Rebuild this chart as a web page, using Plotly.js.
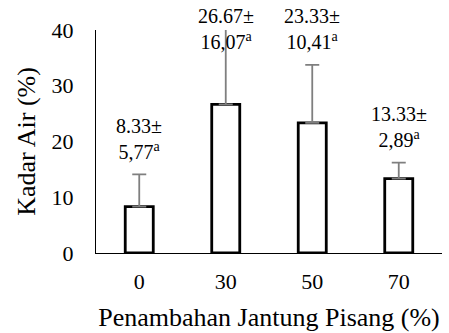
<!DOCTYPE html>
<html>
<head>
<meta charset="utf-8">
<script src="https://cdn.plot.ly/plotly-3.0.1.min.js"></script>
<style>html,body{margin:0;padding:0;background:#fff;}</style>
</head>
<body>
<div id="chart" style="width:449px;height:333px"></div>
<script>
const categories = ["0", "30", "50", "70"];
const means = [8.33, 26.67, 23.33, 13.33];
const sds = [5.77, 16.07, 10.41, 2.89];
const meanLabels = ["8.33±", "26.67±", "23.33±", "13.33±"];
const sdLabels = ["5,77", "16,07", "10,41", "2,89"];
const letters = ["a", "a", "a", "a"];

const FONT = "Liberation Serif";
const YMAX = 40;

const trace = {
  type: "bar",
  x: categories,
  y: means,
  marker: {color: "#ffffff", line: {color: "#000000", width: 2.8}},
  error_y: {type: "data", array: sds, symmetric: false, arrayminus: sds.map(() => 0),
            color: "#7f7f7f", thickness: 1.8, width: 7},
  hoverinfo: "skip"
};

const annotations = categories.map((c, i) => {
  const top = Math.min(means[i] + sds[i], 33.7);
  return {x: i, y: (top + 6.4) / YMAX, xref: "x", yref: "paper",
    text: meanLabels[i] + "<br>" + sdLabels[i] + "<sup>" + letters[i] + "</sup>",
    showarrow: false, xanchor: "center", yanchor: "middle", align: "center",
    font: {family: FONT, size: 20, color: "#000"}};
});

const layout = {
  width: 449, height: 333,
  margin: {l: 96, r: 7, t: 30, b: 80},
  paper_bgcolor: "#fff", plot_bgcolor: "#fff",
  showlegend: false,
  bargap: 0.676,
  font: {family: FONT, color: "#000", size: 20},
  xaxis: {
    type: "category", range: [-0.5, 3.5], autorange: false,
    showgrid: false, zeroline: false,
    showline: true, linecolor: "#000", linewidth: 1,
    ticks: "", ticklabelstandoff: 9,
    tickfont: {family: FONT, size: 22, color: "#000"},
    title: {text: "Penambahan Jantung Pisang (%)", font: {family: FONT, size: 26, color: "#000"}, standoff: 14}
  },
  yaxis: {
    range: [0, YMAX], autorange: false, dtick: 10,
    showgrid: false, zeroline: false,
    showline: true, linecolor: "#000", linewidth: 1,
    ticks: "", ticklabelstandoff: 17,
    tickfont: {family: FONT, size: 22, color: "#000"},
    title: {text: "Kadar Air (%)", font: {family: FONT, size: 26, color: "#000"}, standoff: 8}
  },
  annotations: annotations
};

Plotly.newPlot("chart", [trace], layout, {displayModeBar: false, staticPlot: true});
</script>
</body>
</html>
